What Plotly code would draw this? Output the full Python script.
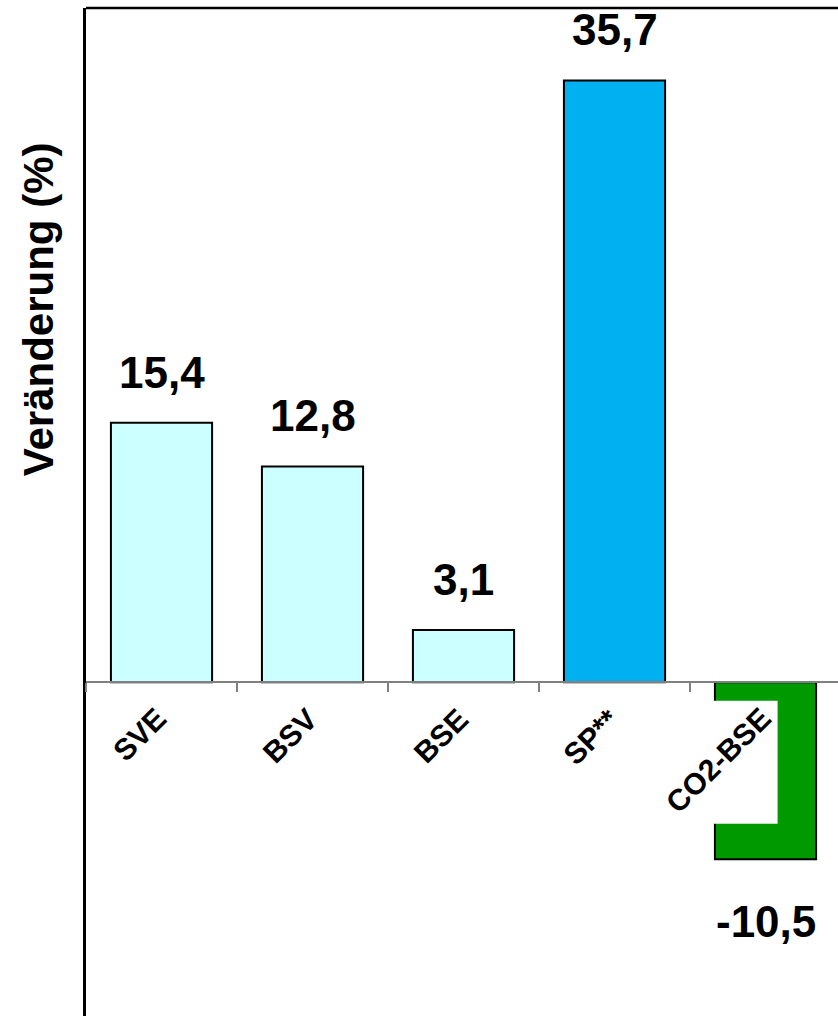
import plotly.graph_objects as go

# Veränderung je Kennzahl (%)
categories = ["SVE", "BSV", "BSE", "SP**", "CO2-BSE"]
values = [15.4, 12.8, 3.1, 35.7, -10.5]
value_labels = ["15,4", "12,8", "3,1", "35,7", "-10,5"]
bar_colors = ["#CCFFFF", "#CCFFFF", "#CCFFFF", "#00B0F0", "#009900"]

FONT = "Liberation Sans, Arial, sans-serif"
Y_MIN, Y_MAX = -19.8, 40

fig = go.Figure()
fig.add_trace(go.Bar(
    x=categories,
    y=values,
    width=0.67,
    marker=dict(color=bar_colors, line=dict(color="black", width=2)),
    hoverinfo="skip",
))

# Value labels above positive bars, below negative bars
for cat, val, lab in zip(categories, values, value_labels):
    fig.add_annotation(
        x=cat, y=val, text=f"<b>{lab}</b>", showarrow=False,
        xanchor="center",
        yanchor="bottom" if val >= 0 else "top",
        yshift=24 if val >= 0 else -36,
        font=dict(family=FONT, size=44, color="black"),
    )

# Rotated category labels below the zero line
for cat in categories:
    fig.add_annotation(
        x=cat, y=0, text=f"<b>{cat}</b>", showarrow=False,
        textangle=-45, xanchor="right", yanchor="top",
        xshift=14, yshift=-17,
        font=dict(family=FONT, size=30, color="black"),
    )

# Y-axis title, placed in the upper half beside the axis line
fig.add_annotation(
    xref="paper", yref="y", x=0, y=22.1, text="<b>Veränderung (%)</b>",
    showarrow=False, textangle=-90, xanchor="right", yanchor="middle",
    xshift=-22, font=dict(family=FONT, size=42, color="black"),
)

# White label backdrop over the negative bar, plus the top frame line
fig.add_shape(type="rect", xref="x", yref="y", x0=3.5, x1=4.08, y0=-1.1, y1=-8.4,
              fillcolor="white", line=dict(width=0), layer="above")
fig.add_shape(type="line", xref="paper", yref="paper", x0=0, x1=1, y0=1, y1=1,
              line=dict(color="black", width=2.5))

zero_pos = (0 - Y_MIN) / (Y_MAX - Y_MIN)

fig.update_layout(
    width=838, height=1016,
    margin=dict(l=86, r=0, t=8, b=0),
    plot_bgcolor="white", paper_bgcolor="white",
    showlegend=False,
    font=dict(family=FONT, color="black"),
    xaxis=dict(
        type="category", range=[-0.5, 4.48],
        anchor="free", position=zero_pos,
        showline=True, linecolor="#808080", linewidth=1.5,
        ticks="outside", tickson="boundaries", ticklen=9,
        tickcolor="#808080", tickwidth=1.5,
        showticklabels=False, showgrid=False, zeroline=False,
    ),
    yaxis=dict(
        range=[Y_MIN, Y_MAX],
        showline=True, linecolor="black", linewidth=2.5,
        showticklabels=False, ticks="", showgrid=False, zeroline=False,
    ),
)

fig.write_html("out.html")
